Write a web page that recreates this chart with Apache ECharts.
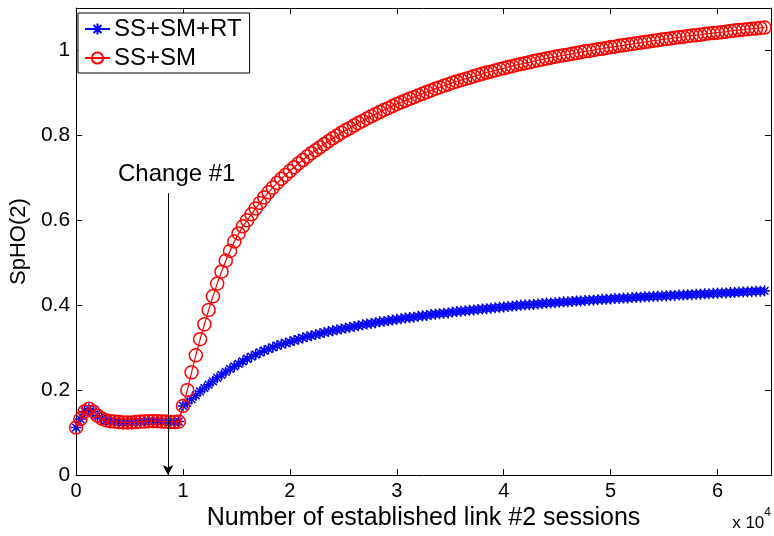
<!DOCTYPE html>
<html>
<head>
<meta charset="utf-8">
<script src="https://cdn.jsdelivr.net/npm/echarts@6/dist/echarts.min.js"></script>
<style>
html,body{margin:0;padding:0;background:#fff;}
#chart{width:774px;height:536px;}
</style>
</head>
<body>
<div id="chart"></div>
<script>
// x in units of 10^4 sessions
var xValues = [0,0.04,0.08,0.12,0.16,0.2,0.24,0.28,0.32,0.36,0.4,0.44,0.48,0.52,0.56,0.6,0.64,0.68,0.72,0.76,0.8,0.84,0.88,0.92,0.96,
1,1.04,1.08,1.12,1.16,1.2,1.24,1.28,1.32,1.36,1.4,1.44,1.48,1.52,1.56,1.6,1.64,1.68,1.72,1.76,1.8,1.84,1.88,1.92,1.96,
2,2.04,2.08,2.12,2.16,2.2,2.24,2.28,2.32,2.36,2.4,2.44,2.48,2.52,2.56,2.6,2.64,2.68,2.72,2.76,2.8,2.84,2.88,2.92,2.96,
3,3.04,3.08,3.12,3.16,3.2,3.24,3.28,3.32,3.36,3.4,3.44,3.48,3.52,3.56,3.6,3.64,3.68,3.72,3.76,3.8,3.84,3.88,3.92,3.96,
4,4.04,4.08,4.12,4.16,4.2,4.24,4.28,4.32,4.36,4.4,4.44,4.48,4.52,4.56,4.6,4.64,4.68,4.72,4.76,4.8,4.84,4.88,4.92,4.96,
5,5.04,5.08,5.12,5.16,5.2,5.24,5.28,5.32,5.36,5.4,5.44,5.48,5.52,5.56,5.6,5.64,5.68,5.72,5.76,5.8,5.84,5.88,5.92,5.96,
6,6.04,6.08,6.12,6.16,6.2,6.24,6.28,6.32,6.36,6.4,6.44];

var ssSmRt = [0.112,0.132,0.150,0.156,0.150,0.140,0.133,0.129,0.127,0.126,0.125,0.124,0.124,0.124,0.125,0.126,0.126,0.127,0.127,0.127,0.126,0.126,0.125,0.125,0.126,
0.163,0.170,0.179,0.188,0.197,0.205,0.213,0.221,0.229,0.236,0.243,0.250,0.256,0.262,0.268,0.274,0.279,0.284,0.289,0.293,0.297,0.301,0.305,0.308,0.311,
0.314,0.317,0.320,0.323,0.326,0.328,0.331,0.333,0.336,0.338,0.340,0.342,0.344,0.346,0.348,0.350,0.352,0.354,0.356,0.357,0.359,0.361,0.362,0.364,0.365,
0.367,0.368,0.370,0.371,0.372,0.374,0.375,0.376,0.378,0.379,0.380,0.381,0.382,0.384,0.385,0.386,0.387,0.388,0.389,0.390,0.391,0.392,0.393,0.394,0.395,
0.396,0.397,0.398,0.399,0.400,0.401,0.401,0.402,0.403,0.404,0.405,0.405,0.406,0.407,0.408,0.408,0.409,0.410,0.410,0.411,0.412,0.412,0.413,0.414,0.414,
0.415,0.416,0.416,0.417,0.417,0.418,0.419,0.419,0.420,0.420,0.421,0.421,0.422,0.422,0.423,0.423,0.424,0.424,0.425,0.425,0.426,0.426,0.427,0.427,0.428,
0.428,0.429,0.429,0.430,0.430,0.431,0.431,0.432,0.432,0.433,0.433,0.434];

var ssSm = [0.112,0.132,0.150,0.156,0.150,0.140,0.133,0.129,0.127,0.126,0.125,0.124,0.124,0.124,0.125,0.126,0.126,0.127,0.127,0.127,0.126,0.126,0.125,0.125,0.126,
0.163,0.200,0.242,0.282,0.320,0.355,0.389,0.421,0.451,0.479,0.505,0.528,0.550,0.569,0.586,0.600,0.614,0.628,0.641,0.654,0.666,0.677,0.688,0.698,0.707,
0.716,0.725,0.734,0.742,0.750,0.758,0.765,0.772,0.779,0.786,0.793,0.799,0.806,0.812,0.817,0.823,0.829,0.834,0.840,0.845,0.850,0.855,0.860,0.864,0.869,
0.874,0.878,0.882,0.886,0.890,0.894,0.898,0.902,0.906,0.910,0.913,0.917,0.920,0.924,0.927,0.930,0.933,0.936,0.939,0.942,0.945,0.948,0.950,0.953,0.956,
0.958,0.961,0.963,0.966,0.968,0.970,0.972,0.975,0.977,0.979,0.981,0.983,0.985,0.987,0.989,0.990,0.992,0.994,0.996,0.998,0.999,1.001,1.003,1.004,1.006,
1.008,1.009,1.011,1.012,1.014,1.015,1.017,1.018,1.020,1.021,1.023,1.024,1.026,1.027,1.028,1.030,1.031,1.032,1.034,1.035,1.036,1.037,1.039,1.040,1.041,
1.042,1.043,1.044,1.046,1.047,1.048,1.049,1.050,1.051,1.052,1.053,1.054];

var seriesNames = ['SS+SM+RT', 'SS+SM'];
var xTicks = [0,1,2,3,4,5,6];
var yTicks = [0,0.2,0.4,0.6,0.8,1];
var changeX = 0.86;       // annotation position (x 10^4)
var changeTop = 0.664;
var changeLabel = 'Change #1';

function pairs(xs, ys){ var out=[]; for (var i=0;i<xs.length;i++) out.push([xs[i], ys[i]]); return out; }

var FONT = 'Liberation Sans, Arial, Helvetica, sans-serif';
var starPath = 'path://M0,5L10,5M5,0L5,10M1.5,1.5L8.5,8.5M8.5,1.5L1.5,8.5';

var chart = echarts.init(document.getElementById('chart'), null, {renderer:'canvas'});
var option = {
  animation:false,
  backgroundColor:'#fff',
  textStyle:{fontFamily:FONT},
  grid:{left:72, right:1, top:8, bottom:56, containLabel:false},
  legend:{
    left:78, top:13, orient:'vertical',
    backgroundColor:'#fff', borderColor:'#000', borderWidth:1, borderRadius:0,
    padding:[4,8,3,6], itemGap:5, itemWidth:25, itemHeight:14,
    textStyle:{fontSize:24, color:'#000', fontFamily:FONT, padding:[0,0,0,-1]},
    data:seriesNames
  },
  xAxis:[{
    type:'value', min:0, max:6.5, interval:1, position:'bottom',
    axisLine:{show:true, onZero:false, lineStyle:{color:'#000', width:1}},
    axisTick:{show:true, inside:true, length:6, lineStyle:{color:'#000'}},
    axisLabel:{show:true, fontSize:20, color:'#000', margin:6, fontFamily:FONT,
      formatter:function(v){ return xTicks.indexOf(v)>=0 ? String(v) : ''; }},
    splitLine:{show:false},
    name:'Number of established link #2 sessions', nameLocation:'middle', nameGap:22,
    nameTextStyle:{fontSize:25, color:'#000', fontFamily:FONT}
  },{
    type:'value', min:0, max:6.5, interval:1, position:'top',
    axisLine:{show:true, onZero:false, lineStyle:{color:'#000', width:1}},
    axisTick:{show:true, inside:true, length:6, lineStyle:{color:'#000'}},
    axisLabel:{show:false}, splitLine:{show:false}
  }],
  yAxis:[{
    type:'value', min:0, max:1.1, interval:0.2, position:'left',
    axisLine:{show:true, onZero:false, lineStyle:{color:'#000', width:1}},
    axisTick:{show:true, inside:true, length:6, lineStyle:{color:'#000'}},
    axisLabel:{show:true, fontSize:21, color:'#000', margin:6, fontFamily:FONT,
      formatter:function(v){ var r=Math.round(v*10)/10; return yTicks.indexOf(r)>=0 && Math.abs(v-r)<1e-6 ? String(r) : ''; }},
    splitLine:{show:false},
    name:'SpHO(2)', nameLocation:'middle', nameGap:28,
    nameTextStyle:{fontSize:22, color:'#000', fontFamily:FONT}
  },{
    type:'value', min:0, max:1.1, interval:0.2, position:'right',
    axisLine:{show:true, onZero:false, lineStyle:{color:'#000', width:1}},
    axisTick:{show:true, inside:true, length:6, lineStyle:{color:'#000'}},
    axisLabel:{show:false}, splitLine:{show:false}
  }],
  series:[{
    name:seriesNames[0], type:'line', xAxisIndex:0, yAxisIndex:0,
    data:pairs(xValues, ssSmRt),
    symbol:starPath, symbolSize:11, showAllSymbol:true,
    lineStyle:{color:'#0000ff', width:1},
    itemStyle:{color:'#0000ff', borderColor:'#0000ff', borderWidth:1.5},
    z:2
  },{
    name:seriesNames[1], type:'line', xAxisIndex:0, yAxisIndex:0,
    data:pairs(xValues, ssSm),
    symbol:'circle', symbolSize:13, showAllSymbol:true,
    lineStyle:{color:'#ff0000', width:1.2},
    itemStyle:{color:'rgba(255,255,255,0)', borderColor:'#ff0000', borderWidth:1.5},
    z:3,
    markLine:{
      silent:true, symbol:['none','arrow'], symbolSize:[8,10],
      lineStyle:{color:'#000', width:1, type:'solid'},
      label:{show:false},
      data:[[{coord:[changeX, changeTop]},{coord:[changeX, 0]}]]
    }
  }]
};
chart.setOption(option);

var p = chart.convertToPixel({xAxisIndex:0, yAxisIndex:0}, [changeX, changeTop]);
chart.setOption({
  graphic:[{
    type:'text', left:p[0]-50, top:p[1]-31,
    style:{text:changeLabel, fontSize:24, fill:'#000', fontFamily:FONT}
  },{
    type:'text', right:3, top:507,
    style:{text:'{a|x 10}{b|4}', fill:'#000', fontFamily:FONT,
      rich:{a:{fontSize:17, fontFamily:FONT, padding:[8,0,0,0]}, b:{fontSize:12, fontFamily:FONT, verticalAlign:'top', padding:[0,0,10,0]}}}
  }]
});
</script>
</body>
</html>
